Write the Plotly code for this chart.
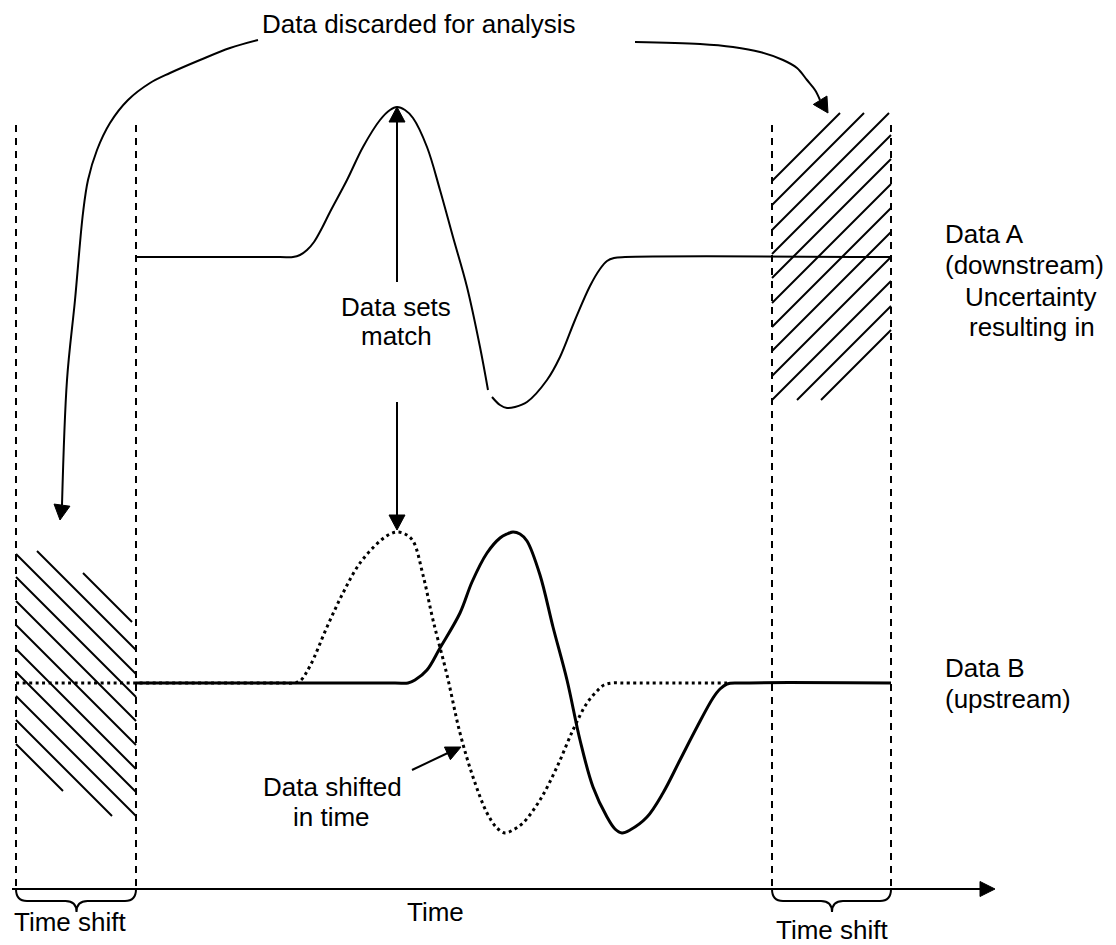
import math
import plotly.graph_objects as go

W, H = 1116, 945
OFF = 8  # page body margin of the browser

# ---------------- data (pixel units) ----------------
# Data A (downstream), solid; a tiny gap near the trough
A1_X = [135, 280, 293, 300, 307, 314, 322, 330, 347, 363, 380, 390, 397, 405, 413, 427, 440,
        453, 467, 480, 488]
A1_Y = [257, 257, 257, 255, 250, 242, 228, 212, 180, 147, 120, 110, 107, 110, 118, 147, 190,
        237, 287, 347, 390]
A2_X = [492, 500, 507, 515, 527, 547, 560, 575, 590, 600, 607, 614, 625, 891]
A2_Y = [397, 405, 408, 407, 402, 380, 357, 320, 286, 269, 261, 258, 257, 257]

# Data B (upstream) shifted in time, dotted
BD_X = [16, 280, 293, 300, 310, 327, 343, 360, 380, 390, 397, 405, 413, 423, 433, 447, 460,
        473, 487, 497, 505, 513, 523, 540, 557, 573, 587, 597, 604, 612, 625, 727]
BD_Y = [683, 683, 683, 681, 666, 627, 593, 563, 541, 534, 532, 534, 541, 575, 620, 675, 733,
        777, 813, 828, 833, 830, 823, 800, 767, 730, 703, 691, 685, 683, 683, 683]

# Data B (upstream), solid
BS_X = [136, 395, 408, 415, 427, 440, 460, 472, 487, 500, 507, 513, 520, 527, 540, 553, 567,
        580, 593, 607, 615, 622, 630, 647, 663, 680, 697, 713, 720, 727, 740, 891]
BS_Y = [683, 683, 683, 680, 670, 648, 613, 582, 553, 538, 534, 532, 534, 541, 575, 627, 680,
        740, 787, 817, 829, 833, 830, 817, 793, 760, 727, 698, 689, 684, 683, 683]

# time-shift windows (left, right edges) and dashed extent
SHIFT_WINDOWS = [(16, 136), (772, 891)]
DASH_TOP, AXIS_Y = 125, 889

# hatch lines: left window "\" (y - x = d), right window "/" (x + y = s)
LEFT_HATCH_D = [490, 514, 538, 561, 585, 609, 633, 656, 680, 704, 728]
LEFT_HATCH_X0 = [83, 37, 16, 16, 16, 16, 16, 16, 16, 16, 16]
LEFT_HATCH_X1 = [132, 136, 136, 136, 136, 136, 136, 136, 136, 112, 63]
RIGHT_HATCH_S = [953, 977, 1002, 1026, 1050, 1075, 1099, 1123, 1148, 1172, 1197, 1221]
RIGHT_HATCH_Y = (113, 400)

# curved arrows from the title
LA_X = [258, 230, 200, 170, 150, 128, 110, 97, 88, 83, 75, 67, 62]
LA_Y = [40, 48, 60, 73, 83, 100, 123, 150, 180, 213, 300, 380, 505]
LA_TIP = (60, 520)
RA_X = [635, 700, 733, 760, 783, 797, 807, 815, 820]
RA_Y = [42, 44, 47, 52, 60, 68, 80, 90, 100]
RA_TIP = (828, 113)

# text
LABELS = ["Data discarded for analysis", "Data sets", "match", "Data A", "(downstream)",
          "Uncertainty", "resulting in", "Data B", "(upstream)", "Data shifted", "in time",
          "Time shift", "Time", "Time shift"]
LABEL_X = [419, 396, 396, 943, 943, 1031, 1032, 943, 943, 332, 331, 70, 435, 832]
LABEL_Y = [24, 307, 336, 234, 265, 297, 327, 668, 699, 787, 817, 922, 912, 930]
LABEL_ANCHOR = ["center", "center", "center", "left", "left", "center", "center", "left",
                "left", "center", "center", "center", "center", "center"]

FONT = "Liberation Sans, Arial, Helvetica, sans-serif"

fig = go.Figure()
shapes = []


def line_trace(xs, ys, width=2, dash="solid", shape="spline"):
    fig.add_trace(go.Scatter(x=xs, y=ys, mode="lines",
                             line=dict(color="black", width=width, dash=dash, shape=shape,
                                       smoothing=1.0),
                             hoverinfo="skip", showlegend=False))


def head(tip, tail, L=15, Wd=16):
    dx, dy = tip[0] - tail[0], tip[1] - tail[1]
    n = math.hypot(dx, dy)
    ux, uy = dx / n, dy / n
    bx, by = tip[0] - ux * L, tip[1] - uy * L
    px, py = -uy * Wd / 2, ux * Wd / 2
    path = (f"M {tip[0]},{tip[1]} L {bx + px},{by + py} L {bx - px},{by - py} Z")
    shapes.append(dict(type="path", path=path, xref="x", yref="y",
                       fillcolor="black", line=dict(color="black", width=1)))


# hatch
hx, hy = [], []
for d, x0, x1 in zip(LEFT_HATCH_D, LEFT_HATCH_X0, LEFT_HATCH_X1):
    hx += [x0, x1, None]
    hy += [x0 + d, x1 + d, None]
rx0, rx1 = SHIFT_WINDOWS[1]
for s in RIGHT_HATCH_S:
    ya, yb = RIGHT_HATCH_Y
    xa = max(rx0, s - yb)
    xb = min(rx1, s - ya)
    hx += [xa, xb, None]
    hy += [s - xa, s - xb, None]
fig.add_trace(go.Scatter(x=hx, y=hy, mode="lines", line=dict(color="black", width=2),
                         hoverinfo="skip", showlegend=False))

# dashed window borders
for a, b in SHIFT_WINDOWS:
    for xv in (a, b):
        shapes.append(dict(type="line", x0=xv, x1=xv, y0=DASH_TOP, y1=AXIS_Y, xref="x", yref="y",
                           line=dict(color="black", width=2, dash="7px,6px")))

# braces
for a, b in SHIFT_WINDOWS:
    m = (a + b) / 2 + 0.5
    r = 11
    p = (f"M {a},{AXIS_Y} Q {a},{AXIS_Y + 12} {a + r},{AXIS_Y + 12} "
         f"L {m - r},{AXIS_Y + 12} Q {m},{AXIS_Y + 12} {m},{AXIS_Y + 23} "
         f"Q {m},{AXIS_Y + 12} {m + r},{AXIS_Y + 12} L {b - r},{AXIS_Y + 12} "
         f"Q {b},{AXIS_Y + 12} {b},{AXIS_Y}")
    shapes.append(dict(type="path", path=p, xref="x", yref="y", line=dict(color="black", width=2)))

# time axis
shapes.append(dict(type="line", x0=12, x1=982, y0=AXIS_Y, y1=AXIS_Y, xref="x", yref="y",
                   line=dict(color="black", width=2)))
head((995, AXIS_Y), (12, AXIS_Y), L=15, Wd=15)

# curves
line_trace(BD_X, BD_Y, width=3, dash="3px,3.5px")
line_trace(BS_X, BS_Y, width=3)
line_trace(A1_X, A1_Y, width=2)
line_trace(A2_X, A2_Y, width=2)

# curved arrows
line_trace(LA_X, LA_Y, width=2)
head(LA_TIP, (LA_X[-1], LA_Y[-1]))
line_trace(RA_X, RA_Y, width=2)
head(RA_TIP, (RA_X[-1], RA_Y[-1]))

# straight arrows
shapes.append(dict(type="line", x0=397, x1=397, y0=282, y1=118, xref="x", yref="y",
                   line=dict(color="black", width=2)))
head((397, 107), (397, 282))
shapes.append(dict(type="line", x0=397, x1=397, y0=402, y1=519, xref="x", yref="y",
                   line=dict(color="black", width=2)))
head((397, 530), (397, 402))
shapes.append(dict(type="line", x0=412, x1=452, y0=770, y1=751, xref="x", yref="y",
                   line=dict(color="black", width=2)))
head((461, 747), (412, 770), L=15, Wd=14)

annotations = []
for t, x, y, anc in zip(LABELS, LABEL_X, LABEL_Y, LABEL_ANCHOR):
    annotations.append(dict(text=t, x=x, y=y, xref="x", yref="y", xanchor=anc,
                            yanchor="middle", showarrow=False,
                            font=dict(family=FONT, size=26, color="black")))

fig.update_layout(
    width=W - OFF, height=H - OFF, margin=dict(l=0, r=0, t=0, b=0),
    paper_bgcolor="white", plot_bgcolor="white",
    xaxis=dict(range=[OFF, W], visible=False, fixedrange=True),
    yaxis=dict(range=[H, OFF], visible=False, fixedrange=True),
    shapes=shapes, annotations=annotations,
)
fig.write_html("out.html", config={"displayModeBar": False})
